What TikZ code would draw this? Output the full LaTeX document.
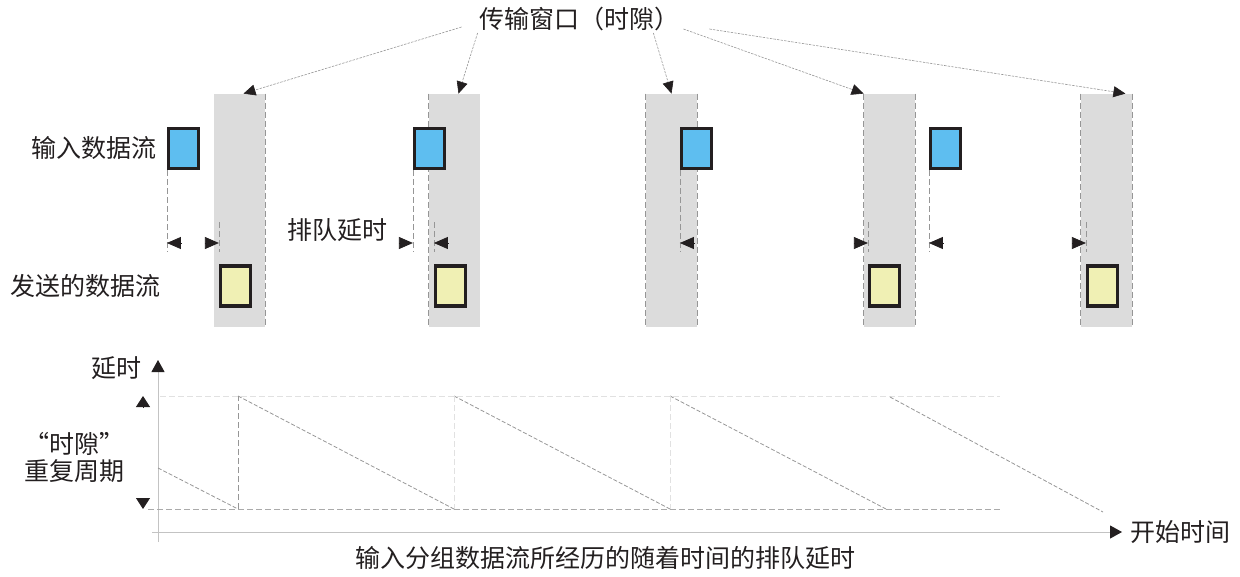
\documentclass[tikz,border=0pt]{standalone}
\usepackage{fontspec}
\setmainfont{Noto Sans CJK SC}
\usepackage{tikz}
\usetikzlibrary{arrows.meta}
\usetikzlibrary{positioning}
\definecolor{slotBody}{RGB}{220,220,220}
\definecolor{inBody}{RGB}{94,190,240}
\definecolor{outBody}{RGB}{240,240,180}
\definecolor{boxBorder}{RGB}{35,31,32}
\definecolor{guideLine}{RGB}{150,150,150}
\definecolor{baseLine}{RGB}{170,170,170}
\definecolor{faintLine}{RGB}{225,225,225}
\definecolor{axisLine}{RGB}{195,195,195}
\tikzstyle{slot} = [rectangle, fill=slotBody, inner sep=0pt,
        minimum width=25.5pt, minimum height=116.5pt]
\tikzstyle{packet} = [rectangle, draw=boxBorder, line width=1.6pt, inner sep=0pt,
        minimum width=15pt, minimum height=20pt]
\tikzstyle{inpacket} = [packet, fill=inBody]
\tikzstyle{outpacket} = [packet, fill=outBody]
\tikzstyle{caption} = [font={\fontsize{12.5}{13.5}\selectfont}, text=boxBorder, inner sep=0pt]
\tikzstyle{edge} = [guideLine, line width=0.4pt, dash pattern=on 3pt off 1.5pt]
\tikzstyle{faint} = [faintLine, line width=0.4pt, dash pattern=on 3pt off 1.5pt]
\tikzstyle{saw} = [guideLine, line width=0.4pt, dash pattern=on 2pt off 1pt]
\tikzstyle{pointer} = [guideLine, line width=0.3pt, dash pattern=on 1.2pt off 0.6pt,
        -{Triangle[length=6pt, width=5.5pt, color=boxBorder]}]
\tikzstyle{dimtip} = [boxBorder, -{Triangle[length=7pt, width=6pt]}]
\tikzstyle{periodtip} = [boxBorder, -{Triangle[length=5.5pt, width=7pt]}]
\tikzstyle{axis} = [axisLine, line width=0.5pt,
        -{Triangle[length=6pt, width=6.5pt, color=boxBorder]}]

\begin{document}
\begin{tikzpicture}[x=0.5pt, y=-0.5pt]
        \useasboundingbox (0,0) rectangle (1240,577);
        % transmission windows
        \foreach \i/\x in {1/239.5, 2/454.5, 3/671.5, 4/889.5, 5/1106.5}
            \node [slot] (slot\i) at (\x,210.5) {};
        \draw [edge] (slot1.north east) -- (slot1.south east);
        \draw [edge] (slot2.north west) -- (slot2.south west);
        \foreach \i in {3,4,5} {
            \draw [edge] (slot\i.north west) -- (slot\i.south west);
            \draw [edge] (slot\i.north east) -- (slot\i.south east);
        }
        % packets
        \foreach \i/\x in {1/183.5, 2/429.5, 3/696.5, 4/945.5}
            \node [inpacket] (in\i) at (\x,148.5) {};
        \foreach \i/\x in {1/235.5, 2/450.5, 4/884.5, 5/1102.5}
            \node [outpacket] (out\i) at (\x,286) {};
        \node [caption, left=5pt of in1] (inlabel) {输入数据流};
        \node [caption, left=29pt of out1] (outlabel) {发送的数据流};
        \node [caption] (qlabel) at (337,230) {排队延时};
        % queueing delay marks
        \coordinate (qtop) at (0,222);
        \coordinate (qarr) at (0,243);
        \coordinate (qbot) at (0,252);
        \foreach \i in {1,...,4}
            \draw [edge] (in\i.south west) -- (in\i.south west |- qbot);
        \foreach \i in {1,2,4,5}
            \draw [edge] (out\i.west |- qtop) -- (out\i.west |- qbot);
        \foreach \a/\b in {in1/out1, in3/out4, in4/out5} {
            \coordinate (qa) at (\a.south west |- qarr);
            \coordinate (qb) at (\b.west |- qarr);
            \draw [dimtip] ([xshift=7pt]qa) -- (qa);
            \draw [dimtip] ([xshift=-7pt]qb) -- (qb);
        }
        \coordinate (qa) at (in2.south west |- qarr);
        \coordinate (qb) at (out2.west |- qarr);
        \draw [dimtip] ([xshift=-7pt]qa) -- (qa);
        \draw [dimtip] ([xshift=7pt]qb) -- (qb);
        % title and pointers
        \node [caption] (title) at (579,19) {传输窗口（时隙）};
        \draw [pointer] ([xshift=-8.5pt, yshift=-4pt]title.west) -- ([xshift=2pt]slot1.north);
        \draw [pointer] ([xshift=-0.5pt, yshift=-7pt]title.west) -- ([xshift=2pt]slot2.north);
        \draw [pointer] ([xshift=-13pt, yshift=-7pt]title.east) -- (slot3.north);
        \draw [pointer] ([xshift=2pt, yshift=-5pt]title.east) -- (slot4.north west);
        \draw [pointer] ([xshift=15pt, yshift=-5pt]title.east) -- ([xshift=-3.5pt]slot5.north east);
        % delay chart
        \draw [axis] (158,542) -- (158,360);
        \node [caption, anchor=west] (xlabel) at (1130,532) {开始时间};
        \draw [axis] (152,532) -- ([xshift=-4pt]xlabel.west);
        \node [caption, anchor=east] (ylabel) at (142,368) {延时};
        \node [caption, align=center] (period) at (75,457) {“时隙”\\重复周期};
        \coordinate (ptop) at (143,396);
        \coordinate (pbot) at (143,509);
        \draw [periodtip] ([yshift=-5.5pt]ptop) -- (ptop);
        \draw [periodtip] ([yshift=5.5pt]pbot) -- (pbot);
        \draw [faint] (160,396) -- (1000,396);
        \draw [edge, baseLine] (148,509) -- (1000,509);
        \draw [saw] (158,468) -- (238,509);
        \draw [edge] (238,509) -- (238,396);
        \foreach \x in {238,454,670}
            \draw [saw] (\x,396) -- ++(216,113);
        \foreach \x in {454,670}
            \draw [faint] (\x,396) -- (\x,509);
        \draw [saw] (890,397) -- (1103,512);
        \node [caption] (xcaption) at (605,558) {输入分组数据流所经历的随着时间的排队延时};
\end{tikzpicture}
\end{document}
